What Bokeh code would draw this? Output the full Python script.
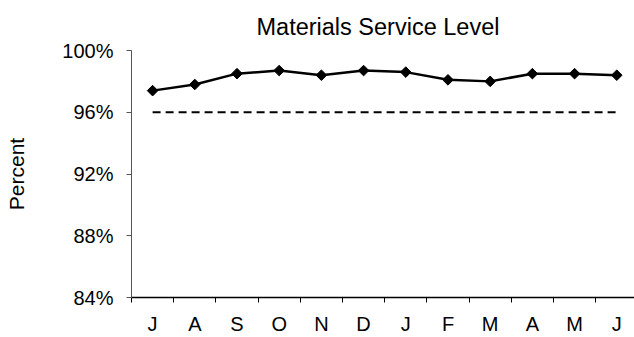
from bokeh.plotting import figure
from bokeh.models import Range1d, FixedTicker, PrintfTickFormatter, LinearAxis
from bokeh.embed import file_html
from bokeh.resources import INLINE

title_text = "Materials Service Level"
months = ["J", "A", "S", "O", "N", "D", "J", "F", "M", "A", "M", "J"]
service_level = [97.4, 97.8, 98.5, 98.7, 98.4, 98.7, 98.6, 98.1, 98.0, 98.5, 98.5, 98.4]
target = [96, 96, 96, 96, 96, 96, 96, 96, 96, 96, 96, 96]
y_ticks = [84, 88, 92, 96, 100]

x_pos = [i + 0.5 for i in range(len(months))]
boundaries = list(range(len(months) + 1))

FONT = "Liberation Sans"

p = figure(width=634, height=337, output_backend="svg", toolbar_location=None,
           x_range=Range1d(0, 11.92), y_range=Range1d(84, 100),
           x_axis_type=None, y_axis_type=None,
           min_border_left=131, min_border_right=0, min_border_top=50, min_border_bottom=38)
p.outline_line_color = None
p.background_fill_color = "white"
p.border_fill_color = "white"

p.title.text = title_text
p.title.text_font = FONT
p.title.text_font_size = "23.5px"
p.title.text_font_style = "normal"
p.title.align = "left"
p.title.offset = 125
p.title.standoff = 21
p.title.text_color = "black"

xaxis = LinearAxis(ticker=FixedTicker(ticks=x_pos, minor_ticks=boundaries))
xaxis.major_label_overrides = {x: m for x, m in zip(x_pos, months)}
xaxis.major_tick_out = 0
xaxis.major_tick_in = 0
xaxis.minor_tick_out = 5
xaxis.minor_tick_in = 0
xaxis.minor_tick_line_color = "black"
xaxis.axis_line_color = "black"
xaxis.axis_line_width = 1.5
xaxis.major_label_text_font = FONT
xaxis.major_label_text_font_size = "20px"
xaxis.major_label_text_color = "black"
xaxis.major_label_standoff = 10
p.add_layout(xaxis, "below")

yaxis = LinearAxis(ticker=FixedTicker(ticks=y_ticks, minor_ticks=[]),
                   formatter=PrintfTickFormatter(format="%d%%"))
yaxis.axis_label = "Percent"
yaxis.axis_label_text_font = FONT
yaxis.axis_label_text_font_size = "21px"
yaxis.axis_label_text_font_style = "normal"
yaxis.axis_label_text_color = "black"
yaxis.axis_label_standoff = 31
yaxis.major_tick_out = 5
yaxis.major_tick_in = 0
yaxis.major_tick_line_color = "#555555"
yaxis.axis_line_color = "#555555"
yaxis.major_label_text_font = FONT
yaxis.major_label_text_font_size = "20px"
yaxis.major_label_text_color = "black"
yaxis.major_label_standoff = 13
p.add_layout(yaxis, "left")

p.xgrid.visible = False
p.ygrid.visible = False

p.line(x_pos, target, line_color="black", line_width=2, line_dash="8 5")
p.line(x_pos, service_level, line_color="black", line_width=2.5)
p.scatter(x_pos, service_level, marker="square", size=7.5, angle=0.785398,
          fill_color="black", line_color="black")

open("out.html", "w").write(file_html(p, INLINE))
